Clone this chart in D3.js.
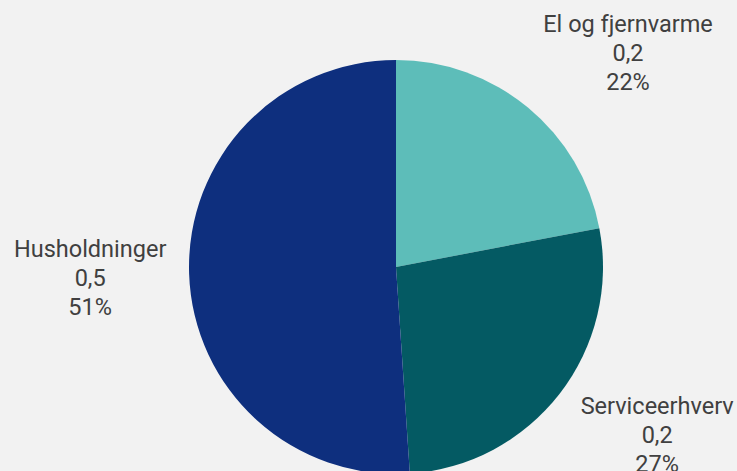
<!DOCTYPE html>
<html><head><meta charset="utf-8">
<script src="https://cdn.jsdelivr.net/npm/d3@7"></script>
<style>html,body{margin:0;padding:0;background:#f2f2f2;}svg{display:block;}</style>
</head><body>
<svg id="c" width="737" height="471"></svg>
<script>
const categories = ["El og fjernvarme", "Serviceerhverv", "Husholdninger"];
const values = [0.196, 0.24, 0.455];
const colors = ["#5dbdb9", "#045a63", "#0e2f7e"];

const W = 737, H = 471;
const cx = 396, cy = 267, r = 207;
const labelRadius = 306;
const nudges = [[37, 30], [19, -11], [0, 9]];

const svg = d3.select("#c");
svg.append("rect").attr("width", W).attr("height", H).attr("fill", "#f2f2f2");

const pie = d3.pie().sort(null).value(d => d)(values);
const arc = d3.arc().innerRadius(0).outerRadius(r);
const g = svg.append("g").attr("transform", `translate(${cx},${cy})`);
g.selectAll("path").data(pie).join("path")
  .attr("d", arc).attr("fill", (d, i) => colors[i]);

const total = d3.sum(values);
const fmtV = v => d3.format(".1f")(v).replace(".", ",");
const fmtP = v => Math.round(v / total * 100) + "%";

pie.forEach((d, i) => {
  const a = (d.startAngle + d.endAngle) / 2;
  const x = cx + labelRadius * Math.sin(a) + nudges[i][0];
  const y = cy - labelRadius * Math.cos(a) + nudges[i][1];
  const t = svg.append("text").attr("text-anchor", "middle")
    .attr("font-family", "Roboto, sans-serif").attr("font-size", 23.5)
    .attr("fill", "#404040");
  [categories[i], fmtV(values[i]), fmtP(values[i])].forEach((s, k) => {
    t.append("tspan").attr("x", x).attr("y", y + (k - 1) * 29).text(s);
  });
});
</script>
</body></html>
